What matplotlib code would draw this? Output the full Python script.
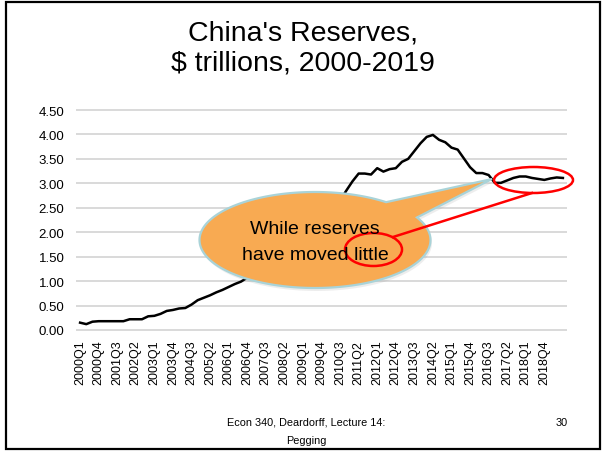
import numpy as np
import matplotlib
matplotlib.use("Agg")
import matplotlib.pyplot as plt
from matplotlib.patches import Polygon, Ellipse, Rectangle

plt.rcParams['font.family'] = ['Liberation Sans', 'DejaVu Sans']

# quarterly reserves, $ trillions
years = range(2000, 2020)
quarters = [f"{y}Q{q}" for y in years for q in range(1, 5)][:79]   # 2000Q1 .. 2019Q3

reserves = [
    0.15, 0.12, 0.17, 0.18, 0.18, 0.18, 0.18, 0.18,   # 2000-2001
    0.22, 0.22, 0.22, 0.28, 0.29, 0.33, 0.39, 0.41,   # 2002-2003
    0.44, 0.45, 0.52, 0.61, 0.66, 0.71, 0.77, 0.82,   # 2004-2005
    0.88, 0.94, 0.99, 1.07, 1.20, 1.33, 1.43, 1.53,   # 2006-2007
    1.68, 1.81, 1.91, 1.95, 1.95, 2.13, 2.27, 2.40,   # 2008-2009
    2.45, 2.45, 2.65, 2.85, 3.04, 3.20, 3.20, 3.18,   # 2010-2011
    3.31, 3.24, 3.29, 3.31, 3.44, 3.50, 3.66, 3.82,   # 2012-2013
    3.95, 3.99, 3.89, 3.84, 3.73, 3.69, 3.51, 3.33,   # 2014-2015
    3.21, 3.21, 3.17, 3.01, 3.01, 3.06, 3.11, 3.14,   # 2016-2017
    3.14, 3.11, 3.09, 3.07, 3.10, 3.12, 3.11,         # 2018-2019Q3
]

yticks = [0.0, 0.5, 1.0, 1.5, 2.0, 2.5, 3.0, 3.5, 4.0, 4.5]

W, H = 602, 452
fig = plt.figure(figsize=(W / 100, H / 100), dpi=100)

# main chart
ax = fig.add_axes([77 / W, 1 - 331 / H, (566 - 77) / W, 220 / H])
x = np.arange(len(reserves))
ax.plot(x, reserves, color='black', lw=1.8, zorder=3)
ax.set_xlim(-0.5, len(reserves) - 0.5)
ax.set_ylim(0, 4.5)
ax.set_yticks(yticks)
ax.set_yticklabels([f"{v:.2f}" for v in yticks], fontsize=9.5)
# every third quarter labelled, last label 2018Q4
ax.set_xticks(x[:76:3])
ax.set_xticklabels(quarters[:76:3], rotation=90, fontsize=9)
ax.tick_params(length=0)
ax.tick_params(axis='y', pad=9)
ax.tick_params(axis='x', pad=7)
for s in ax.spines.values():
    s.set_visible(False)
for v in yticks:
    ax.axhline(v, color='#d9d9d9', lw=1.4, zorder=1, clip_on=False)

# slide decorations in pixel coordinates
ov = fig.add_axes([0, 0, 1, 1], zorder=5)
ov.set_xlim(0, W)
ov.set_ylim(H, 0)
ov.axis('off')
ov.patch.set_alpha(0)

ov.add_patch(Rectangle((6, 3), 594, 447, fill=False, ec='black', lw=1.6))

ov.text(303, 33, "China's Reserves,", ha='center', va='center', fontsize=20.5)
ov.text(303, 64, "$ trillions, 2000-2019", ha='center', va='center', fontsize=20.5)

ov.text(306, 423, "Econ 340, Deardorff, Lecture 14:", ha='center', va='center', fontsize=7.8)
ov.text(306, 441, "Pegging", ha='center', va='center', fontsize=7.8)
ov.text(562, 423, "30", ha='center', va='center', fontsize=7.8)

# speech bubble
cx, cy, a, b = 315, 241, 115.5, 48
t = np.radians(np.linspace(52, 388, 200))
pts = np.column_stack([cx + a * np.cos(t), cy - b * np.sin(t)])
pts = np.vstack([pts, [[492, 180]]])
ov.add_patch(Polygon(pts + [1.5, 3], closed=True, fc='#8c8c8c', ec='none', alpha=0.15))
ov.add_patch(Polygon(pts, closed=True, fc='#f8aa52', ec='#a9d3d8', lw=1.6))
ov.text(315, 230, "While reserves", ha='center', va='center', fontsize=14)
ov.text(315, 255, "have moved little", ha='center', va='center', fontsize=14)

# red highlights
ov.add_patch(Ellipse((533.5, 181), 79, 26, fill=False, ec='red', lw=1.8))
ov.add_patch(Ellipse((373.5, 250.5), 57, 33, fill=False, ec='red', lw=1.8))
ov.plot([393, 532], [238, 194], color='red', lw=1.8)

fig.savefig("out.png", dpi=100)
